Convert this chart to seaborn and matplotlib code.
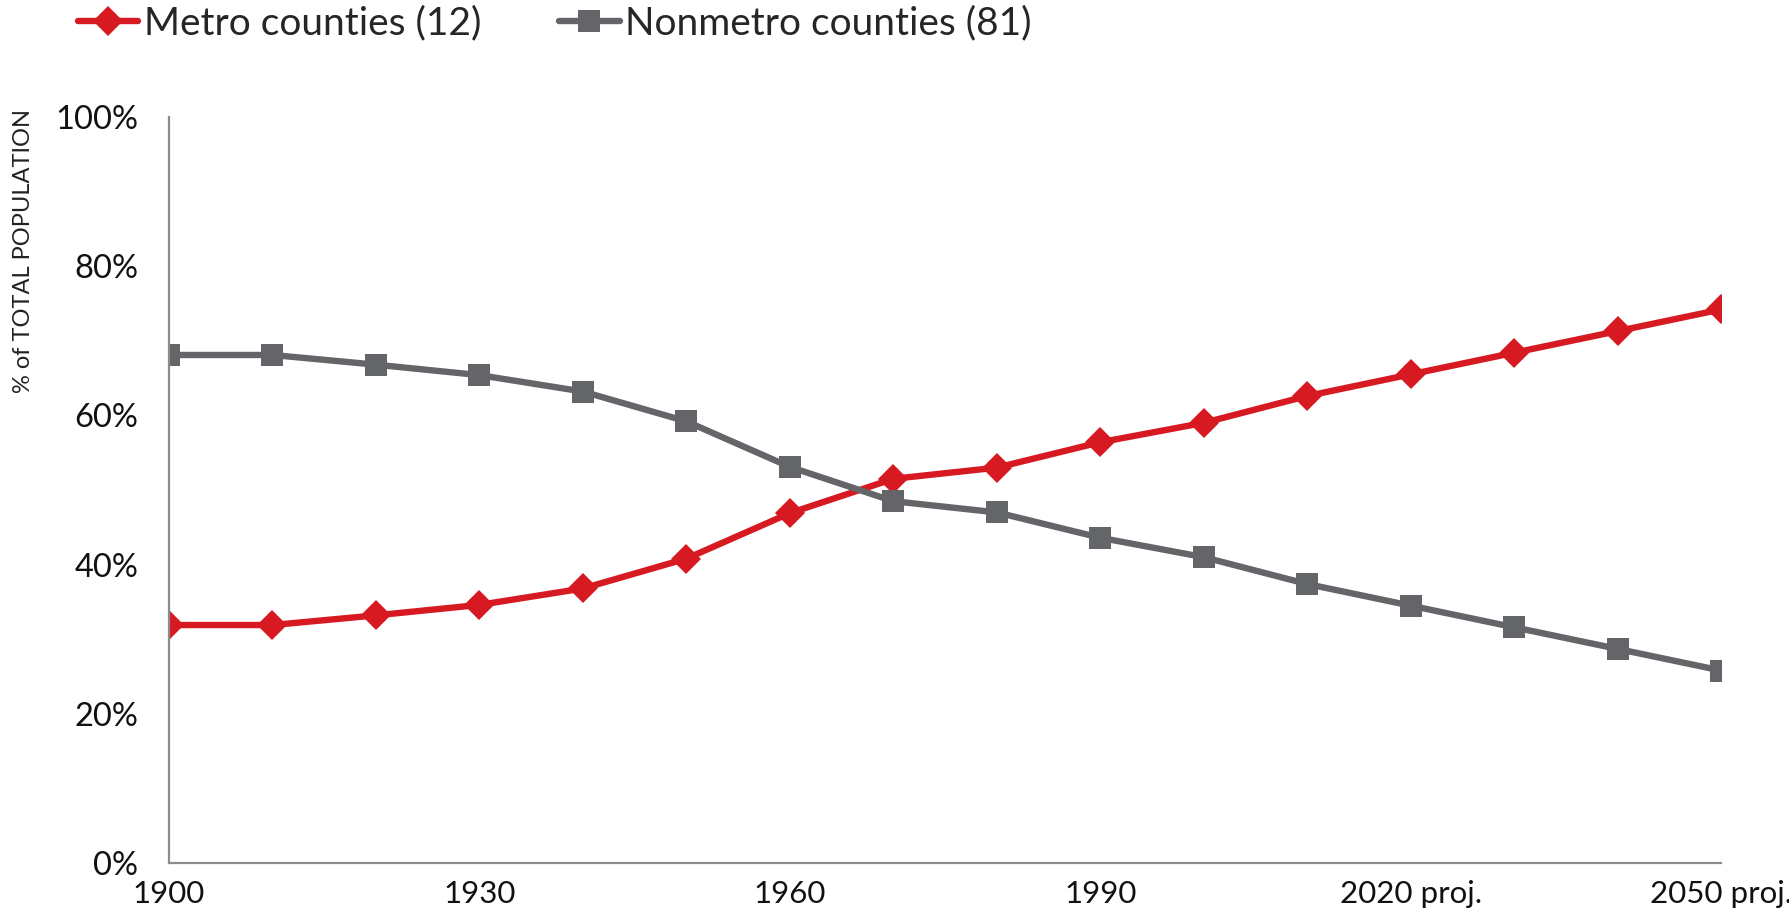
import matplotlib
matplotlib.use("Agg")
import matplotlib.pyplot as plt
import seaborn as sns
import pandas as pd

# data (share of total population, %)
years = [1900, 1910, 1920, 1930, 1940, 1950, 1960, 1970, 1980, 1990,
         2000, 2010, 2020, 2030, 2040, 2050]
metro = [31.9, 31.9, 33.2, 34.6, 36.8, 40.8, 46.9, 51.5, 53.0, 56.4,
         59.0, 62.6, 65.5, 68.4, 71.3, 74.2]
nonmetro = [68.1, 68.1, 66.8, 65.4, 63.2, 59.2, 53.1, 48.5, 47.0, 43.6,
            41.0, 37.4, 34.5, 31.6, 28.7, 25.8]
tick_labels = ["1900", "", "", "1930", "", "", "1960", "", "", "1990",
               "", "", "2020 proj.", "", "", "2050 proj."]
y_ticks = [0, 20, 40, 60, 80, 100]

red = "#D71A21"
grey = "#636569"
axis_grey = "#8C8C8C"

sns.set_style("white")
plt.rcParams["font.family"] = ["Lato", "DejaVu Sans"]

df = pd.DataFrame({"year": years, "metro": metro, "nonmetro": nonmetro})

fig = plt.figure(figsize=(17.9, 9.19), dpi=100)
ax = fig.add_axes([0.0944, 0.0609, 0.8671, 0.8118])

sns.lineplot(data=df, x="year", y="metro", ax=ax, color=red, lw=4.6,
             marker="D", markersize=15, markeredgewidth=0,
             label="Metro counties (12)")
sns.lineplot(data=df, x="year", y="nonmetro", ax=ax, color=grey, lw=4.6,
             marker="s", markersize=16.5, markeredgewidth=0,
             label="Nonmetro counties (81)")

ax.set_xlim(1900, 2050)
ax.set_ylim(0, 100)
ax.set_xticks(years)
ax.set_xticklabels(tick_labels)
ax.set_yticks(y_ticks)
ax.set_yticklabels([f"{v}%" for v in y_ticks])

for side in ["top", "right"]:
    ax.spines[side].set_visible(False)
for side in ["left", "bottom"]:
    ax.spines[side].set_color(axis_grey)
    ax.spines[side].set_linewidth(1.6)

ax.tick_params(axis="y", direction="out", length=7, width=1.6,
               color=axis_grey, labelsize=23.5, pad=15, labelcolor="#111111")
ax.tick_params(axis="x", direction="inout", length=14, width=1.6,
               color=axis_grey, labelsize=22.5, pad=5, labelcolor="#111111")

ax.set_xlabel("")
ax.set_ylabel("% of TOTAL POPULATION", fontsize=17, color="#222222")
ax.yaxis.set_label_coords(-0.087, 0.82)

ax.get_legend().remove()
handles, labels = ax.get_legend_handles_labels()
fig.legend(handles, labels, loc="upper left", bbox_to_anchor=(0.0436, 0.994),
           ncol=2, frameon=False, fontsize=28, handlelength=1.55,
           handletextpad=0.15, columnspacing=2.0, borderpad=0,
           borderaxespad=0)

fig.savefig("out.png", dpi=100)
